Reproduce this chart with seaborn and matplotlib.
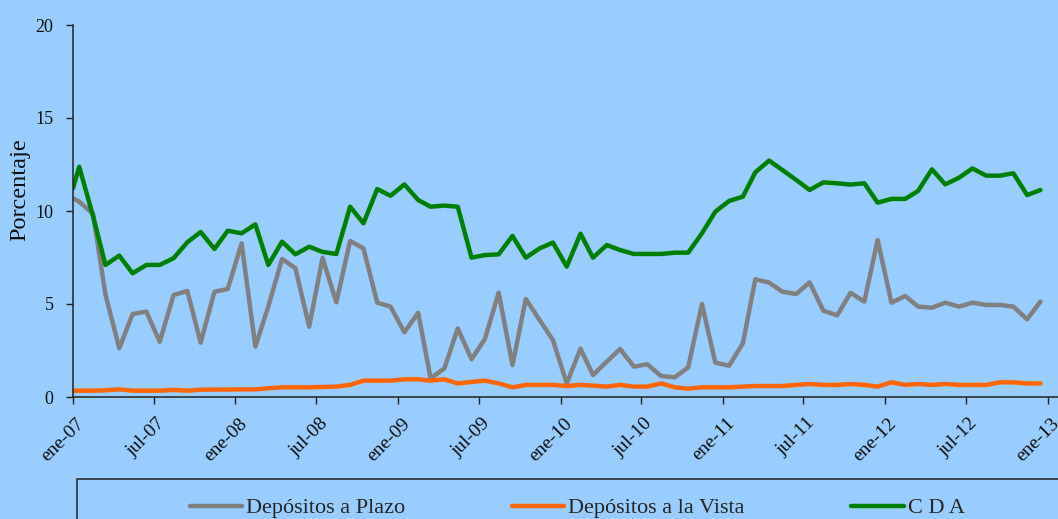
import numpy as np
import pandas as pd
import seaborn as sns
import matplotlib.pyplot as plt
import matplotlib.dates as mdates
import matplotlib.transforms as mtransforms
from matplotlib.patches import Rectangle

# first value sits on the axis start, the rest are mid-month observations
fechas = [pd.Timestamp("2007-01-01")] + list(pd.date_range("2007-01-01", "2012-12-01", freq="MS") + pd.Timedelta(days=14))

plazo = [10.68, 10.50, 9.85, 5.50, 2.62, 4.46, 4.59, 2.97, 5.48, 5.70,
         2.92, 5.66, 5.81, 8.26, 2.71, 4.86, 7.42, 6.92, 3.78, 7.48,
         5.09, 8.39, 7.99, 5.07, 4.86, 3.48, 4.53, 1.00, 1.54, 3.69,
         2.03, 3.12, 5.61, 1.72, 5.27, 4.14, 3.06, 0.73, 2.60, 1.18,
         1.90, 2.58, 1.63, 1.76, 1.13, 1.06, 1.59, 5.00, 1.85, 1.68,
         2.89, 6.33, 6.15, 5.66, 5.54, 6.16, 4.64, 4.39, 5.60, 5.13,
         8.44, 5.07, 5.43, 4.86, 4.80, 5.07, 4.86, 5.07, 4.95, 4.95,
         4.86, 4.18, 5.13]

vista = [0.34, 0.34, 0.34, 0.36, 0.41, 0.34, 0.34, 0.34, 0.38, 0.34,
         0.39, 0.40, 0.40, 0.41, 0.41, 0.47, 0.52, 0.52, 0.52, 0.54,
         0.56, 0.65, 0.88, 0.88, 0.88, 0.95, 0.95, 0.88, 0.95, 0.73,
         0.81, 0.88, 0.73, 0.52, 0.65, 0.65, 0.65, 0.59, 0.65, 0.61,
         0.56, 0.65, 0.56, 0.56, 0.73, 0.52, 0.45, 0.52, 0.52, 0.52,
         0.56, 0.59, 0.59, 0.59, 0.65, 0.70, 0.65, 0.65, 0.70, 0.65,
         0.56, 0.79, 0.65, 0.70, 0.65, 0.70, 0.65, 0.65, 0.65, 0.79,
         0.79, 0.73, 0.73]

cda = [11.22, 12.38, 9.73, 7.10, 7.60, 6.65, 7.10, 7.10, 7.46, 8.32,
       8.87, 7.96, 8.94, 8.80, 9.28, 7.10, 8.35, 7.67, 8.08, 7.80,
       7.69, 10.23, 9.34, 11.18, 10.82, 11.43, 10.59, 10.23, 10.29, 10.23,
       7.49, 7.63, 7.67, 8.66, 7.49, 7.99, 8.30, 7.01, 8.78, 7.49,
       8.17, 7.90, 7.69, 7.69, 7.69, 7.76, 7.76, 8.80, 9.96, 10.54,
       10.77, 12.08, 12.71, 12.20, 11.67, 11.13, 11.54, 11.49, 11.42, 11.49,
       10.45, 10.65, 10.65, 11.08, 12.24, 11.43, 11.79, 12.29, 11.90, 11.90,
       12.03, 10.86, 11.13]

series = ["Depósitos a Plazo", "Depósitos a la Vista", "C D A"]
colores = ["#808080", "#FF6600", "#008000"]

tick_fechas = pd.date_range("2007-01-01", "2013-01-01", freq="6MS")
tick_labels = ["ene-07", "jul-07", "ene-08", "jul-08", "ene-09", "jul-09", "ene-10",
               "jul-10", "ene-11", "jul-11", "ene-12", "jul-12", "ene-13"]

df = pd.concat([
    pd.DataFrame({"fecha": fechas, "valor": plazo, "serie": series[0]}),
    pd.DataFrame({"fecha": fechas, "valor": vista, "serie": series[1]}),
    pd.DataFrame({"fecha": fechas, "valor": cda, "serie": series[2]}),
], ignore_index=True)

sns.set_theme(style="ticks")
plt.rcParams["font.family"] = ["Liberation Serif", "DejaVu Serif"]
bg = "#99CCFF"

fig = plt.figure(figsize=(10.58, 5.19), dpi=100, facecolor=bg)
ax = fig.add_axes([73 / 1058, 122 / 519, 985 / 1058, 372 / 519])
ax.set_facecolor(bg)

sns.lineplot(data=df, x="fecha", y="valor", hue="serie", hue_order=series,
             palette=colores, linewidth=3.2, ax=ax, sort=False)

handles, labels = ax.get_legend_handles_labels()
ax.get_legend().remove()

x0 = mdates.date2num(pd.Timestamp("2007-01-01"))
x1 = mdates.date2num(pd.Timestamp("2013-01-01"))
ax.set_xlim(x0, x0 + (x1 - x0) * (1058 - 73) / (1048 - 73))
ax.set_ylim(0, 20)
ax.set_yticks([0, 5, 10, 15, 20])
ax.set_xticks(tick_fechas)

ax.tick_params(axis="both", direction="out", length=5, width=1, color="#222222",
               labelcolor="#111111")
ax.tick_params(axis="x", pad=15, labelsize=14)
ax.tick_params(axis="y", pad=9, labelsize=13)

ax.set_xticklabels(tick_labels, rotation=45, ha="right", va="center",
                   rotation_mode="anchor")
# nudge the slanted labels (after tick_params, which resets transforms)
offset = mtransforms.ScaledTranslation(9 / 100, 4 / 100, fig.dpi_scale_trans)
for lab in ax.get_xticklabels():
    lab.set_transform(lab.get_transform() + offset)

for s in ["top", "right"]:
    ax.spines[s].set_visible(False)
for s in ["left", "bottom"]:
    ax.spines[s].set_color("#222222")
    ax.spines[s].set_linewidth(1.1)

ax.set_xlabel("")
ax.set_ylabel("Porcentaje", fontsize=17.5, color="#111111")
ax.yaxis.set_label_coords((30 - 73) / 985, (397 - 190) / 372)

# legend box running off the bottom/right edge like the source
fig.patches.append(Rectangle((77 / 1058, -0.1), 1.0, 0.1 + 40 / 519,
                             transform=fig.transFigure, fill=False,
                             edgecolor="#222222", linewidth=1.1))
fig.legend(handles, labels, loc="center left", bbox_to_anchor=(190 / 1058, 11 / 519),
           ncol=3, frameon=False, fontsize=16, borderpad=0, borderaxespad=0,
           handlelength=2.35, handletextpad=0.18, columnspacing=4.8)

fig.savefig("out.png", dpi=100, facecolor=bg)
